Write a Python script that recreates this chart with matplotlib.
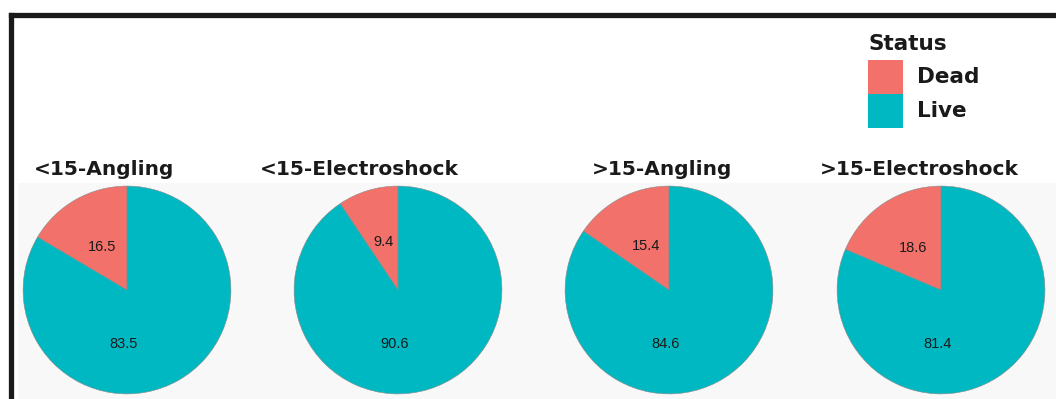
import matplotlib
matplotlib.use("Agg")
import matplotlib.pyplot as plt
from matplotlib.patches import Rectangle
from matplotlib.lines import Line2D
import numpy as np

# Data
groups = ["<15-Angling", "<15-Electroshock", ">15-Angling", ">15-Electroshock"]
dead = [16.5, 9.4, 15.4, 18.6]
live = [83.5, 90.6, 84.6, 81.4]
status = ["Dead", "Live"]
colors = ["#F2716A", "#00B8C2"]

W, H = 1056, 399
fig = plt.figure(figsize=(W / 100, H / 100), dpi=100)
fig.patch.set_facecolor("white")

def fx(x):
    return x / W

def fy(y):
    return 1 - y / H

# Light panel strip behind the pies
fig.add_artist(Rectangle((fx(18), 0), fx(W) - fx(18), fy(183),
                         transform=fig.transFigure, facecolor="#f8f8f8",
                         edgecolor="none", zorder=0))

# Black frame (left and top)
fig.add_artist(Line2D([fx(10.5), fx(10.5)], [0, fy(14.5)], transform=fig.transFigure,
                      color="#1a1a1a", linewidth=3.8, solid_capstyle="projecting"))
fig.add_artist(Line2D([fx(10.5), 1], [fy(14.5), fy(14.5)], transform=fig.transFigure,
                      color="#1a1a1a", linewidth=3.8, solid_capstyle="projecting"))

# Pie positions (pixels)
centers_x = [127, 398, 669, 941]
title_x = [104, 359, 662, 919]
cy = 290
r = 106

for i, g in enumerate(groups):
    ax = fig.add_axes([fx(centers_x[i] - r), fy(cy + r), 2 * r / W, 2 * r / H])
    vals = [dead[i], live[i]]
    ax.pie(vals, colors=colors, startangle=90, counterclock=True, radius=1,
           wedgeprops=dict(edgecolor="#8a8a8a", linewidth=0.4))
    ax.set_xlim(-1.02, 1.02)
    ax.set_ylim(-1.02, 1.02)
    ax.set_aspect("equal")
    ax.axis("off")

    # Labels
    mid = np.deg2rad(90 + dead[i] * 3.6 / 2)
    ax.text(0.48 * np.cos(mid), 0.48 * np.sin(mid), f"{dead[i]:.1f}",
            ha="center", va="center", fontsize=10.5, color="#1a1a1a",
            family="Liberation Sans")
    ax.text(-0.03, -0.52, f"{live[i]:.1f}", ha="center", va="center",
            fontsize=10.5, color="#1a1a1a", family="Liberation Sans")

    # Facet title
    fig.text(fx(title_x[i]), fy(175), g, ha="center", va="baseline",
             fontsize=14.5, fontweight="bold", color="#1a1a1a", family="DejaVu Sans")

# Legend
fig.text(fx(868), fy(50), "Status", ha="left", va="baseline", fontsize=15.5,
         fontweight="bold", color="#1a1a1a", family="DejaVu Sans")
key_top = [60, 94]
for k, lab in enumerate(status):
    fig.add_artist(Rectangle((fx(868), fy(key_top[k] + 34)), 35 / W, 34 / H,
                             transform=fig.transFigure, facecolor=colors[k],
                             edgecolor="none"))
    fig.text(fx(917), fy(key_top[k] + 17), lab, ha="left", va="center",
             fontsize=15.5, fontweight="bold", color="#1a1a1a", family="DejaVu Sans")

fig.savefig("out.png", dpi=100)
